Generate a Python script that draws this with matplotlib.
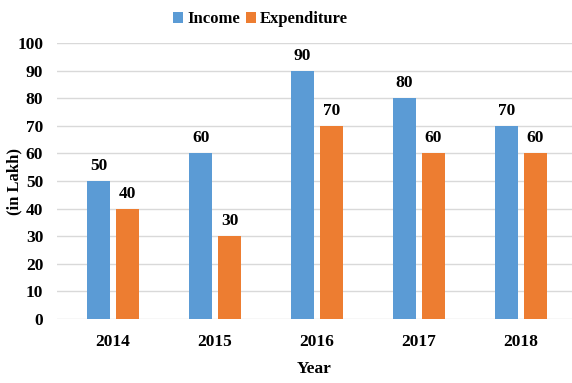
import numpy as np
import matplotlib.pyplot as plt

years = ['2014', '2015', '2016', '2017', '2018']
income = [50, 60, 90, 80, 70]
expenditure = [40, 30, 70, 60, 60]

plt.rcParams['font.family'] = ['Liberation Serif', 'DejaVu Serif']
plt.rcParams['font.weight'] = 'bold'

fig = plt.figure(figsize=(5.72, 3.83), dpi=100)
ax = fig.add_axes([0.0997, 0.167, 0.9003, 0.721])

x = np.arange(len(years))
w = 0.225
off = 0.142
b1 = ax.bar(x - off, income, w, color='#5B9BD5', label='Income', zorder=3)
b2 = ax.bar(x + off, expenditure, w, color='#ED7D31', label='Expenditure', zorder=3)

for bars in (b1, b2):
    for r in bars:
        ax.annotate(f'{int(r.get_height())}', (r.get_x() + r.get_width() / 2, r.get_height()),
                    xytext=(0, 5), textcoords='offset points', ha='center', va='bottom',
                    fontsize=12.5, fontweight='bold')

ax.set_ylim(0, 100)
ax.set_xlim(-0.55, 4.5)
ax.set_yticks(range(0, 101, 10))
ax.set_xticks(x)
ax.set_xticklabels(years)
ax.tick_params(length=0, labelsize=12.5, pad=10)
ax.tick_params(axis='x', pad=11)
ax.grid(axis='y', color='#d9d9d9', linewidth=1, zorder=0)
for s in ax.spines.values():
    s.set_visible(False)

fig.text(14 / 572, 0.527, '(in Lakh)', rotation=90, ha='center', va='center',
         fontsize=12, fontweight='bold')
ax.set_xlabel('Year', fontsize=12.5, fontweight='bold', labelpad=8)

fig.legend(loc='upper center', bbox_to_anchor=(0.455, 1.01), ncol=2, frameon=False,
           fontsize=12, handlelength=0.6, handleheight=0.7, handletextpad=0.25, columnspacing=0.35)

fig.savefig('out.png', dpi=100)
